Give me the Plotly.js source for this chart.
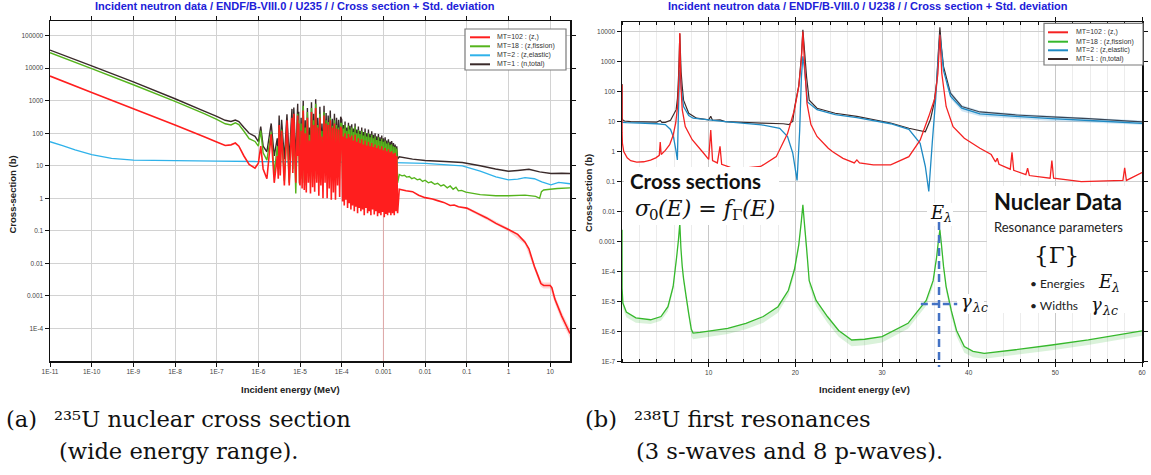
<!DOCTYPE html>
<html><head><meta charset="utf-8">
<script src="https://cdn.plot.ly/plotly-3.0.1.min.js"></script>
<style>html,body{margin:0;padding:0;background:#fff;}#chart{width:1151px;height:475px;}</style>
</head><body><div id="chart"></div><script>
// ---------------- U235 (left panel), energies in MeV, cross sections in barns ----------------
const u235SharedEnergy = [
  1e-11, 1e-10, 1e-9, 1e-8, 5e-8, 1e-7, 1.6e-7, 2.2e-7, 2.8e-7, 3.4e-7, 4.5e-7, 6e-7, 8.3e-7,
  1.0e-6, 1.14e-6, 1.3e-6, 1.6e-6, 2.03e-6, 2.4e-6, 2.84e-6, 3.0e-6, 3.15e-6, 3.35e-6, 3.61e-6, 4.2e-6, 4.85e-6, 5.5e-6, 6.39e-6, 6.7e-6, 7.08e-6, 7.9e-6, 8.78e-6, 9.0e-6, 9.28e-6, 9.7e-6,
  1.0e-5, 1.06e-5, 1.12e-5, 1.19e-5, 1.26e-5, 1.33e-5, 1.41e-5, 1.5e-5, 1.58e-5, 1.68e-5, 1.78e-5, 1.88e-5, 2.0e-5, 2.11e-5, 2.24e-5, 2.37e-5, 2.51e-5, 2.66e-5, 2.82e-5, 2.99e-5,
  3.16e-5, 3.35e-5, 3.55e-5, 3.76e-5, 3.98e-5, 4.22e-5, 4.47e-5, 4.73e-5, 5.01e-5, 5.31e-5, 5.62e-5, 5.96e-5, 6.31e-5, 6.68e-5, 7.08e-5, 7.5e-5, 7.94e-5, 8.41e-5, 8.91e-5, 9.44e-5,
  1.0e-4, 1.05e-4, 1.1e-4, 1.15e-4, 1.2e-4, 1.26e-4, 1.32e-4, 1.38e-4, 1.45e-4, 1.51e-4,
  1.58e-4, 1.66e-4, 1.74e-4, 1.82e-4, 1.91e-4, 2.0e-4, 2.09e-4, 2.19e-4, 2.29e-4, 2.4e-4,
  2.51e-4, 2.63e-4, 2.75e-4, 2.88e-4, 3.02e-4, 3.16e-4, 3.31e-4, 3.47e-4, 3.63e-4, 3.8e-4,
  3.98e-4, 4.17e-4, 4.37e-4, 4.57e-4, 4.79e-4, 5.01e-4, 5.25e-4, 5.5e-4, 5.75e-4, 6.03e-4,
  6.31e-4, 6.61e-4, 6.92e-4, 7.24e-4, 7.59e-4, 7.94e-4, 8.32e-4, 8.71e-4, 9.12e-4, 9.55e-4,
  1.0e-3, 1.05e-3, 1.1e-3, 1.15e-3, 1.2e-3, 1.26e-3, 1.32e-3, 1.38e-3, 1.45e-3, 1.51e-3,
  1.58e-3, 1.66e-3, 1.74e-3, 1.82e-3, 1.91e-3, 2.0e-3, 2.09e-3, 2.19e-3
];
const u235TotalShared = [
  36000, 11800, 3800, 1150, 480, 330, 250, 230, 255, 230, 150, 100, 80,
  55, 160, 40, 27, 200, 20, 70, 22, 350, 18, 260, 16, 380, 15, 560, 20, 620, 15, 800, 50, 460, 14,
  12, 300, 15, 1000, 14, 250, 12, 600, 18, 150, 11, 900, 16, 400, 13, 1100, 20, 300, 12, 650,
  25, 200, 15, 700, 30, 420, 18, 350, 40, 500, 25, 280, 35, 400, 22, 300, 45, 260, 30, 320,
  260, 22, 180, 20, 230, 25, 150, 18, 210, 22,
  170, 20, 190, 24, 140, 18, 200, 21, 130, 19,
  160, 23, 120, 17, 150, 20, 110, 18, 140, 22,
  100, 17, 130, 20, 95, 16, 115, 19, 90, 17,
  100, 21, 80, 16, 95, 18, 75, 15, 85, 19,
  70, 16, 75, 18, 60, 15, 65, 17, 55, 16,
  58, 18, 50, 15, 45, 17, 40, 16
];
const u235FissionShared = [
  30000, 9700, 3100, 950, 400, 265, 195, 180, 210, 185, 115, 68, 56,
  40, 120, 25, 15, 110, 6, 40, 10, 150, 8, 130, 3.5, 120, 3, 250, 8, 200, 1.4, 400, 30, 250, 3,
  5, 200, 4, 700, 3, 150, 2.5, 450, 6, 90, 3, 600, 5, 250, 4, 800, 8, 180, 3, 400,
  10, 120, 5, 450, 12, 250, 6, 220, 15, 300, 9, 170, 14, 250, 8, 180, 18, 150, 12, 200,
  200, 4, 140, 3, 180, 5, 120, 3, 170, 4,
  130, 3, 150, 5, 110, 3, 160, 4, 100, 3,
  125, 5, 95, 3, 120, 4, 85, 3, 110, 5,
  80, 3, 100, 4, 75, 3, 90, 4, 70, 3,
  80, 5, 62, 3, 75, 4, 58, 3, 68, 4,
  55, 3, 60, 4, 48, 3, 52, 4, 44, 3,
  46, 4, 40, 3, 38, 4, 34, 3
];
const u235CaptureShared = [
  5700, 1800, 570, 180, 78, 54, 42, 44, 50, 40, 20, 11, 8.5,
  12, 40, 8, 4, 93, 3, 20, 4, 180, 5, 120, 2.5, 250, 2.5, 300, 6, 400, 3, 350, 20, 200, 3,
  2.5, 120, 2, 500, 1.8, 100, 1.5, 300, 3, 60, 1.4, 450, 2.2, 180, 1.6, 600, 3, 150, 1.2, 300,
  2.5, 80, 1.0, 350, 3, 200, 1.0, 180, 2, 250, 0.9, 150, 1.5, 200, 0.9, 140, 2.5, 130, 1.1, 160,
  120, 0.8, 80, 0.6, 100, 0.9, 70, 0.5, 95, 0.7,
  75, 0.45, 85, 0.6, 60, 0.4, 90, 0.55, 55, 0.35,
  70, 0.5, 50, 0.4, 65, 0.45, 45, 0.3, 60, 0.5,
  42, 0.35, 55, 0.4, 40, 0.3, 50, 0.45, 38, 0.32,
  45, 0.4, 35, 0.28, 42, 0.35, 32, 0.3, 40, 0.38,
  30, 0.26, 35, 0.33, 28, 0.3, 32, 0.36, 26, 0.3,
  28, 0.35, 24, 0.3, 25, 0.4, 20, 0.35
];
// unresolved / fast range
const u235TotalHighEnergy = [2.4e-3, 5e-3, 0.01, 0.03, 0.078, 0.21, 0.49, 1.0, 1.67, 3.1, 5.6, 10.5, 19, 30];
const u235TotalHigh = [19, 16, 14.5, 13.5, 12.6, 10, 8, 6.8, 7.2, 7.8, 6.5, 5.8, 5.9, 5.8];
const u235FissionHighEnergy = [2.4e-3, 2.8e-3, 3.2e-3, 3.6e-3, 4.2e-3, 4.8e-3, 5.5e-3, 6.5e-3, 7.5e-3, 8.7e-3, 0.01, 0.012, 0.014, 0.017, 0.02, 0.024, 0.028, 0.034, 0.04, 0.047, 0.055, 0.063, 0.075, 0.095, 0.21, 0.5, 1.0, 2.5, 4.5, 5.6, 6.2, 7.0, 10, 15, 30];
const u235FissionHigh = [5.4, 4.9, 5.1, 4.5, 4.7, 4.0, 4.3, 3.7, 3.9, 3.3, 3.6, 3.0, 3.2, 2.7, 2.9, 2.4, 2.6, 2.1, 2.4, 1.9, 2.2, 1.7, 1.75, 1.55, 1.3, 1.2, 1.2, 1.25, 1.15, 1.0, 1.6, 1.8, 1.9, 2.0, 2.1];
const u235CaptureHighEnergy = [2.4e-3, 3.5e-3, 5e-3, 7e-3, 0.01, 0.015, 0.02, 0.028, 0.04, 0.05, 0.063, 0.1, 0.175, 0.3, 0.5, 1.0, 1.67, 2.5, 3.1, 4.2, 5.1, 6.0, 7.0, 10, 11, 13, 19, 30];
const u235CaptureHigh = [1.9, 1.7, 1.6, 1.25, 1.05, 0.95, 0.85, 0.75, 0.6, 0.62, 0.55, 0.5, 0.35, 0.25, 0.17, 0.11, 0.078, 0.045, 0.028, 0.008, 0.0042, 0.0024, 0.0021, 0.0021, 0.0018, 0.0008, 0.00024, 0.00007];
const u235CaptureStdEnergy = [0.1, 0.3, 1, 2.5, 4.2, 6, 7, 10, 13, 19, 30];
const u235CaptureStdHigh = [0.55, 0.28, 0.122, 0.052, 0.0098, 0.003, 0.0026, 0.0026, 0.00105, 0.00032, 0.0001];
const u235CaptureStdLow = [0.45, 0.22, 0.098, 0.038, 0.0064, 0.0019, 0.0017, 0.0017, 0.0006, 0.00017, 0.00005];
const u235CaptureStdDipEnergy = [1e-3, 1e-3];
const u235CaptureStdDip = [0.3, 1e-6];
const u235ElasticEnergy = [1e-11, 2e-11, 4e-11, 1e-10, 3e-10, 1e-9, 1e-8, 1e-7, 1e-6, 1e-5, 1e-4, 1e-3, 0.01, 0.078, 0.21, 0.5, 1.0, 1.67, 2.5, 4.2, 6.3, 10.5, 16, 30];
const u235Elastic = [55, 42, 31, 22, 17, 15, 14.5, 14, 13.5, 13.3, 13, 12.8, 11.8, 10, 6.8, 4.6, 3.7, 3.9, 4.3, 4.0, 3.2, 2.6, 3.1, 2.8];

// ---------------- U238 (right panel), energies in eV ----------------
const u238CaptureEnergy = [1e-5, 0.01, 0.05, 0.2, 0.6, 1.0, 1.7, 2.5, 3.3, 3.9, 4.3, 4.41, 4.52, 5.0, 5.5, 5.9, 6.2, 6.4, 6.52, 6.6, 6.67, 6.74, 6.82, 6.95, 7.3, 8.1, 9.4, 10.0, 10.24, 10.45, 11.0, 11.31, 11.5, 12.5, 14.0, 16.0, 17.8, 19.1, 19.9, 20.4, 20.7, 20.87, 21.05, 21.35, 21.8, 22.5, 23.8, 24.2, 24.4, 25.5, 26.8, 27.1, 27.4, 29.0, 31.0, 33.1, 34.4, 35.4, 36.1, 36.45, 36.68, 36.9, 37.4, 38.2, 39.5, 41.3, 42.6, 43.1, 43.3, 43.5, 44.8, 45.0, 45.2, 46.6, 46.8, 47.0, 49.4, 49.6, 49.8, 53.0, 57.8, 58.0, 58.2, 60.0];
const u238Capture = [170, 4.3, 1.9, 1.0, 0.62, 0.5, 0.45, 0.46, 0.52, 0.62, 0.75, 2.1, 0.8, 1.1, 1.7, 3.5, 9, 30, 120, 800, 8900, 800, 120, 25, 6.8, 2.5, 0.9, 0.55, 5.2, 0.5, 0.42, 1.5, 0.38, 0.3, 0.28, 0.32, 0.68, 4, 25, 150, 1200, 10000, 1000, 40, 8, 3.2, 1.3, 1.05, 0.95, 0.6, 0.42, 0.53, 0.42, 0.36, 0.36, 0.68, 2.4, 15, 60, 400, 7800, 400, 32, 6.8, 2.8, 1.3, 0.8, 0.45, 0.6, 0.38, 0.26, 0.95, 0.24, 0.17, 0.28, 0.16, 0.13, 0.5, 0.13, 0.1, 0.11, 0.29, 0.11, 0.2];
const u238TotalEnergy = [1e-5, 0.01, 0.05, 0.3, 1.0, 2.5, 4.0, 4.41, 4.6, 5.0, 5.6, 6.25, 6.4, 6.52, 6.6, 6.67, 6.74, 6.82, 6.95, 7.1, 7.7, 8.6, 10.0, 10.24, 10.45, 11.31, 11.9, 16.1, 18.6, 19.3, 19.5, 19.7, 19.9, 20.4, 20.7, 20.87, 21.05, 21.3, 21.6, 22.5, 24.6, 27.1, 31.0, 33.1, 35.0, 35.6, 36.0, 36.3, 36.5, 36.68, 36.86, 37.1, 37.9, 39.2, 41.3, 45.4, 49.6, 53.8, 60.0];
const u238Total = [180, 14, 11.5, 10.5, 10, 9.8, 9.6, 11, 9.5, 9.5, 11, 25, 60, 300, 1500, 8500, 2000, 450, 150, 52, 19, 13, 11.5, 15, 11, 11.5, 10, 8.9, 8.5, 8, 9.5, 10, 28, 160, 1500, 11500, 2500, 300, 52, 28, 19, 15, 9, 6, 4.6, 12, 40, 200, 2000, 14000, 3000, 680, 89, 32, 21, 16.7, 14.5, 12.5, 9.8];
const u238ElasticEnergy = [1e-5, 0.5, 2.0, 4.0, 5.0, 5.6, 5.95, 6.2, 6.39, 6.5, 6.6, 6.67, 6.74, 6.85, 7.1, 7.7, 8.2, 11.9, 16.1, 18.2, 19.1, 19.7, 20.2, 20.5, 20.7, 20.87, 21.05, 21.4, 22.5, 24.6, 27.1, 31.0, 33.1, 34.4, 35.0, 35.4, 35.8, 36.2, 36.5, 36.68, 36.86, 37.1, 37.9, 39.2, 41.3, 45.4, 49.6, 55.0, 60.0];
const u238Elastic = [9.5, 9.3, 9.0, 8.5, 8.0, 5.5, 3, 1.2, 0.53, 15, 200, 520, 300, 120, 32, 16, 13, 10, 7.8, 6, 3.2, 0.9, 0.11, 5, 300, 1500, 600, 45, 25, 17, 13.5, 8.5, 5.5, 1.9, 0.32, 0.047, 2, 60, 1500, 8000, 2500, 500, 70, 28, 18, 15, 12.5, 10.5, 8.8];
const u238ElasticStdEnergy = [37.4, 38.0, 39.2, 41.3, 45.4, 49.6, 55.0, 60.0];
const u238ElasticStdHigh = [260, 95, 36, 23, 18.5, 15.5, 13, 11];
const u238ElasticStdLow = [170, 55, 22, 15, 12.5, 10.5, 9, 7.8];
const u238FissionEnergy = [1e-5, 0.01, 0.1, 0.5, 1.6, 3.3, 4.5, 5.3, 5.9, 6.3, 6.52, 6.67, 6.8, 6.95, 7.1, 7.4, 7.7, 8.0, 8.2, 9.0, 12.2, 14.3, 16.3, 18.0, 19.2, 19.9, 20.4, 20.7, 20.87, 21.05, 21.3, 21.6, 22.4, 23.7, 25.0, 26.5, 28.0, 30.0, 33.0, 35.1, 35.9, 36.3, 36.5, 36.68, 36.86, 37.1, 37.4, 38.0, 38.6, 39.5, 40.5, 41.8, 45.4, 49.6, 53.8, 60.0];
const u238Fission = [0.0025, 2.8e-5, 9e-6, 4.5e-6, 2.9e-6, 2.5e-6, 3.2e-6, 6.8e-6, 3.2e-5, 3e-4, 0.0012, 0.0041, 6e-4, 1.5e-4, 6e-5, 1.5e-5, 4e-6, 1.2e-6, 9e-7, 9.5e-7, 1.3e-6, 1.9e-6, 3.2e-6, 6.8e-6, 2.4e-5, 1.2e-4, 8e-4, 0.005, 0.017, 0.004, 6e-4, 5e-5, 1.1e-5, 3.2e-6, 1.1e-6, 5.3e-7, 5.6e-7, 6.9e-7, 1.9e-6, 1.1e-5, 5e-5, 3e-4, 0.001, 0.0025, 8e-4, 1.5e-4, 3.2e-5, 5e-6, 1.1e-6, 3.2e-7, 2.2e-7, 1.9e-7, 2.5e-7, 3.6e-7, 5.3e-7, 1.07e-6];
const u238FissionStdLow = [0.0018, 2e-5, 6e-6, 3e-6, 2e-6, 1.8e-6, 2.3e-6, 4.8e-6, 2.3e-5, 2.1e-4, 8.5e-4, 0.0029, 4.2e-4, 1.05e-4, 4e-5, 9e-6, 2.4e-6, 7e-7, 5.6e-7, 6e-7, 8.3e-7, 1.2e-6, 2e-6, 4.3e-6, 1.6e-5, 8e-5, 5.5e-4, 0.0035, 0.012, 0.0028, 4.2e-4, 3.3e-5, 7e-6, 2e-6, 6.8e-7, 3.3e-7, 3.5e-7, 4.4e-7, 1.25e-6, 7.3e-6, 3.4e-5, 2.1e-4, 7e-4, 0.0018, 5.6e-4, 1.05e-4, 2.1e-5, 3.2e-6, 7e-7, 2e-7, 1.4e-7, 1.25e-7, 1.65e-7, 2.4e-7, 3.6e-7, 7.3e-7];
const resonanceEnergies = [6.67, 20.87, 36.68];

// ---------------- labels ----------------
const legendLabels = ['MT=102 : (z,)', 'MT=18 : (z,fission)', 'MT=2 : (z,elastic)', 'MT=1 : (n,total)'];
const titleU235 = 'Incident neutron data / ENDF/B-VIII.0 / U235 / / Cross section + Std. deviation';
const titleU238 = 'Incident neutron data / ENDF/B-VIII.0 / U238 / / Cross section + Std. deviation';
const logTickValsLeft = [1e-11,1e-10,1e-9,1e-8,1e-7,1e-6,1e-5,1e-4,1e-3,1e-2,1e-1,1,10];
const logTickTextLeft = ['1E-11','1E-10','1E-9','1E-8','1E-7','1E-6','1E-5','1E-4','0.001','0.01','0.1','1','10'];
const yTickValsLeft = [1e-4,1e-3,1e-2,1e-1,1,10,100,1000,10000,100000];
const yTickTextLeft = ['1E-4','0.001','0.01','0.1','1','10','100','1000','10000','100000'];
const yTickValsRight = [1e-7,1e-6,1e-5,1e-4,1e-3,1e-2,1e-1,1,10,100,1000,10000];
const yTickTextRight = ['1E-7','1E-6','1E-5','1E-4','0.001','0.01','0.1','1','10','100','1000','10000'];
const xTickValsRight = [10,20,30,40,50,60];

// ---------------- styling ----------------
const W = 1151, H = 475;
const px = x => x / W, py = y => 1 - y / H;
const SANS = 'Liberation Sans, Arial, sans-serif';
const SERIF = 'DejaVu Serif, serif';
const LATO = 'Lato, sans-serif';
const leftCol = {capture:'#ff1e1e', fission:'#55b41c', elastic:'#2fb2ea', total:'#3a2a2a'};
const rightCol = {capture:'#f52222', fission:'#36b82c', elastic:'#1f8ac4', total:'#3a2a2a'};

function line(x, y, color, xa, ya, w) {
  return {x, y, xaxis:xa, yaxis:ya, type:'scatter', mode:'lines', hoverinfo:'skip', showlegend:false,
          line:{color, width:w||1.1, simplify:false}};
}
function band(x, y, fillcolor, xa, ya, fill) {
  return {x, y, xaxis:xa, yaxis:ya, type:'scatter', mode:'lines', hoverinfo:'skip', showlegend:false,
          line:{width:0, color:fillcolor}, fill:fill||'none', fillcolor};
}

const traces = [
  line(u235SharedEnergy.concat(u235TotalHighEnergy), u235TotalShared.concat(u235TotalHigh), leftCol.total, 'x', 'y', 1.4),
  line(u235ElasticEnergy, u235Elastic, leftCol.elastic, 'x', 'y', 1.3),
  line(u235SharedEnergy.concat(u235FissionHighEnergy), u235FissionShared.concat(u235FissionHigh), leftCol.fission, 'x', 'y', 1.4),
  band(u235CaptureStdEnergy, u235CaptureStdHigh, 'rgba(255,70,70,0.22)', 'x', 'y'),
  band(u235CaptureStdEnergy, u235CaptureStdLow, 'rgba(255,70,70,0.22)', 'x', 'y', 'tonexty'),
  line(u235CaptureStdDipEnergy, u235CaptureStdDip, 'rgba(240,120,120,0.6)', 'x', 'y', 0.8),
  line(u235SharedEnergy.concat(u235CaptureHighEnergy), u235CaptureShared.concat(u235CaptureHigh), leftCol.capture, 'x', 'y', 1.6),

  line(u238TotalEnergy, u238Total, rightCol.total, 'x2', 'y2', 1.2),
  band(u238ElasticStdEnergy, u238ElasticStdHigh, 'rgba(60,150,210,0.25)', 'x2', 'y2'),
  band(u238ElasticStdEnergy, u238ElasticStdLow, 'rgba(60,150,210,0.25)', 'x2', 'y2', 'tonexty'),
  line(u238ElasticEnergy, u238Elastic, rightCol.elastic, 'x2', 'y2', 1.3),
  line(u238FissionEnergy, u238Fission, rightCol.fission, 'x2', 'y2', 1.3),
  band(u238FissionEnergy, u238FissionStdLow, 'rgba(70,190,70,0.2)', 'x2', 'y2', 'tonexty'),
  line(u238CaptureEnergy, u238Capture, rightCol.capture, 'x2', 'y2', 1.3)
];

const tickFont = {family:SANS, size:6.5, color:'#444'};
const axBase = {showline:true, linecolor:'#111', linewidth:1.5, mirror:'ticks', ticks:'outside', ticklen:4,
  tickcolor:'#111', tickwidth:1, tickfont:tickFont, showgrid:true, gridcolor:'#d2d2d2', gridwidth:1,
  zeroline:false, automargin:false, fixedrange:true};

const layout = {
  width:W, height:H, margin:{l:0,r:0,t:0,b:0}, paper_bgcolor:'#fff', plot_bgcolor:'#fff', showlegend:false,
  xaxis: Object.assign({}, axBase, {domain:[px(50),px(570)], type:'log', range:[-11, Math.log10(30)], anchor:'y',
          tickmode:'array', tickvals:logTickValsLeft, ticktext:logTickTextLeft}),
  yaxis: Object.assign({}, axBase, {domain:[py(361),py(21)], type:'log', range:[-5, 5.45], anchor:'x',
          tickmode:'array', tickvals:yTickValsLeft, ticktext:yTickTextLeft}),
  xaxis2: Object.assign({}, axBase, {domain:[px(622),px(1142)], type:'linear', range:[0,60], anchor:'y2',
          tickmode:'array', tickvals:xTickValsRight, gridcolor:'#c8c8c8',
          minor:{dtick:2, tick0:0, showgrid:true, gridcolor:'#ececec', ticks:'inside', ticklen:3, tickcolor:'#111'}}),
  yaxis2: Object.assign({}, axBase, {domain:[py(361.7),py(22.3)], type:'log', range:[-7, 4.31], anchor:'x2',
          tickmode:'array', tickvals:yTickValsRight, ticktext:yTickTextRight, gridcolor:'#cfcfcf'}),
  shapes:[], annotations:[]
};

const A = layout.annotations, S = layout.shapes;
function note(x, y, text, font, extra) {
  A.push(Object.assign({xref:'paper', yref:'paper', x:px(x), y:py(y), text, showarrow:false, font,
    xanchor:'center', yanchor:'middle'}, extra||{}));
}
function whiteBox(x0, y0, x1, y1) {
  S.push({type:'rect', xref:'paper', yref:'paper', x0:px(x0), x1:px(x1), y0:py(y1), y1:py(y0),
          fillcolor:'#fff', line:{width:0}, layer:'above'});
}
const bold = (family, size, color) => ({family, size, color, weight:'bold'});
const ital = (family, size, color) => ({family, size, color, style:'italic'});
const L = {xanchor:'left'};
// titles
note(295, 6, titleU235, bold(SANS, 11, '#2020d8'));
note(868, 6, titleU238, bold(SANS, 11, '#2020d8'));
// axis titles
note(290, 389, 'Incident energy (MeV)', bold(SANS, 9.5, '#222'));
note(864, 389, 'Incident energy (eV)', bold(SANS, 9.5, '#222'));
note(12.5, 195, 'Cross-section (b)', bold(SANS, 9.5, '#222'), {textangle:-90});
note(588, 193, 'Cross-section (b)', bold(SANS, 9.5, '#222'), {textangle:-90});

// custom legends
function legend(box, lx0, lx1, tx, rows, cols) {
  S.push({type:'rect', xref:'paper', yref:'paper', x0:px(box[0]), x1:px(box[2]), y0:py(box[1]), y1:py(box[3]),
          fillcolor:'#fff', line:{color:'#7a7a7a', width:1.2}, layer:'above'});
  const c = [cols.capture, cols.fission, cols.elastic, cols.total];
  rows.forEach((ry, i) => {
    S.push({type:'line', xref:'paper', yref:'paper', x0:px(lx0), x1:px(lx1), y0:py(ry), y1:py(ry),
            line:{color:c[i], width:2}, layer:'above'});
    note(tx, ry, legendLabels[i], {family:SANS, size:7, color:'#333'}, L);
  });
}
legend([465,29,566,70], 470, 490, 495, [37.3,46.3,55.3,64.3], leftCol);
legend([1044,23.3,1143,65], 1048, 1068, 1074, [32.3,41.7,50.3,59], rightCol);

// overlay boxes on the right panel
whiteBox(624, 167, 779, 225);
whiteBox(987, 186, 1141, 313);
whiteBox(927, 203, 953, 226);
whiteBox(957, 294, 984, 314);
const Eres = resonanceEnergies[2];
S.push({type:'line', xref:'x2', yref:'paper', x0:Eres - 0.1, x1:Eres - 0.1, y0:py(222), y1:py(367),
        line:{color:'#4472c4', width:2.5, dash:'8px,5px'}, layer:'above'});
S.push({type:'line', xref:'x2', yref:'paper', x0:Eres - 2.2, x1:Eres + 2.0, y0:py(304), y1:py(304),
        line:{color:'#4472c4', width:2.5, dash:'7px,4px'}, layer:'above'});

note(695, 181, 'Cross sections', bold(LATO, 20.5, '#111'));
// sigma_0(E) = f_Gamma(E), built from pieces (main size 22, subscripts 15)
note(633, 209, 'σ', ital(SERIF, 22, '#111'), L);
note(647, 215, '0', {family:SERIF, size:15, color:'#111'}, L);
note(656, 209, '(E) = f', ital(SERIF, 22, '#111'), L);
note(730, 215, 'Γ', {family:SERIF, size:15, color:'#111'}, L);
note(740, 209, '(E)', ital(SERIF, 22, '#111'), L);

note(1058, 202, 'Nuclear Data', bold(LATO, 22, '#111'));
note(1058, 227, 'Resonance parameters', {family:LATO, size:13, color:'#222'});
note(1056, 255, '{Γ}', {family:SERIF, size:23, color:'#111'});
note(1028, 283, '• Energies', {family:LATO, size:12, color:'#222'}, L);
note(1096, 281, 'E', ital(SERIF, 18, '#111'), L);
note(1109, 287, 'λ', ital(SERIF, 12.5, '#111'), L);
note(1028, 305, '• Widths', {family:LATO, size:12, color:'#222'}, L);
note(1089, 304, 'γ', ital(SERIF, 18, '#111'), L);
note(1100, 310, 'λc', ital(SERIF, 12.5, '#111'), L);
// labels next to the dashed guides
note(928, 212, 'E', ital(SERIF, 18, '#111'), L);
note(941, 218, 'λ', ital(SERIF, 12.5, '#111'), L);
note(959, 301, 'γ', ital(SERIF, 18, '#111'), L);
note(970, 307, 'λc', ital(SERIF, 12.5, '#111'), L);

// captions
const capFont = {family:SERIF, size:22.6, color:'#111'};
note(4, 419, '(a)', capFont, L);
note(52, 419, '²³⁵U nuclear cross section', capFont, L);
note(57, 451, '(wide energy range).', capFont, L);
note(583, 419, '(b)', capFont, L);
note(632, 419, '²³⁸U first resonances', capFont, L);
note(634, 451, '(3 s-waves and 8 p-waves).', capFont, L);

Plotly.newPlot('chart', traces, layout, {staticPlot:true, displayModeBar:false});
</script></body></html>
